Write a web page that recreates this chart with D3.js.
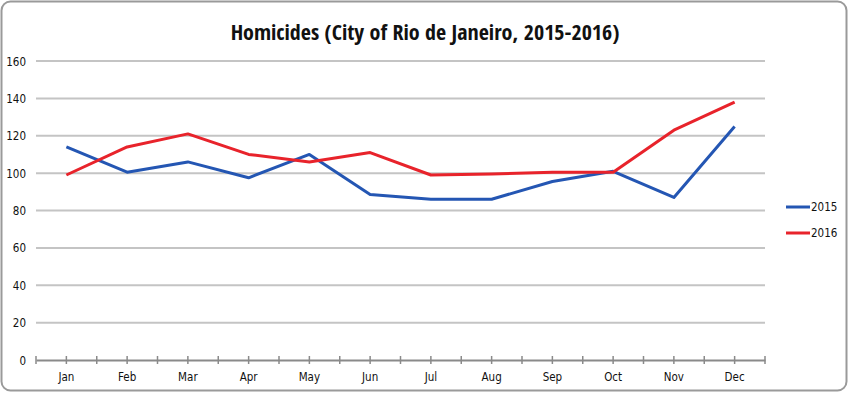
<!DOCTYPE html>
<html>
<head>
<meta charset="utf-8">
<title>Homicides</title>
<script src="https://cdnjs.cloudflare.com/ajax/libs/d3/7.8.5/d3.min.js"></script>
<style>
  body { margin: 0; background: #fff; }
  text { font-family: "DejaVu Sans Condensed", sans-serif; fill: #111; font-weight: normal; }
  .title { font-family: "Open Sans Condensed", "DejaVu Sans Condensed", sans-serif; font-weight: bold; }
  .grid line { stroke: #c4c4c4; stroke-width: 2px; }
  .line { fill: none; stroke-width: 3px; stroke-linejoin: round; }
</style>
</head>
<body>
<script>
// data
var months = ["Jan","Feb","Mar","Apr","May","Jun","Jul","Aug","Sep","Oct","Nov","Dec"];
var homicides2015 = [114, 100.5, 106, 97.5, 110, 88.5, 86, 86, 95.5, 101, 87, 125];
var homicides2016 = [99, 114, 121, 110, 106, 111, 99, 99.5, 100.5, 100.5, 123, 138];
var yTicks = [0, 20, 40, 60, 80, 100, 120, 140, 160];
var seriesNames = ["2015", "2016"];
var seriesColors = ["#2456b3", "#e8232b"];

var width = 850, height = 394;
var margin = {top: 61, right: 85, bottom: 34, left: 36};

var svg = d3.select("body").append("svg")
    .attr("width", width)
    .attr("height", height);

// frame
svg.append("rect")
    .attr("x", 1.5).attr("y", 1.5)
    .attr("width", width - 5).attr("height", height - 5)
    .attr("rx", 9)
    .attr("fill", "#fff")
    .attr("stroke", "#9a9a9a")
    .attr("stroke-width", 2);

svg.append("text")
    .attr("class", "title")
    .attr("x", 425).attr("y", 40)
    .attr("text-anchor", "middle")
    .style("font-size", "22px")
    .text("Homicides (City of Rio de Janeiro, 2015-2016)");

var x = d3.scaleBand().domain(months).range([margin.left, width - margin.right]);
var y = d3.scaleLinear().domain([0, 160]).range([height - margin.bottom, margin.top]);

var g = svg.append("g");

// horizontal gridlines
g.append("g").attr("class", "grid")
  .selectAll("line")
  .data(yTicks.filter(function(d) { return d > 0; }))
  .enter().append("line")
    .attr("x1", margin.left).attr("x2", width - margin.right)
    .attr("y1", function(d) { return y(d); })
    .attr("y2", function(d) { return y(d); });

// y labels
var yAxis = g.append("g")
    .attr("transform", "translate(" + (margin.left - 10) + ",0)")
    .call(d3.axisLeft(y).tickValues(yTicks).tickSize(0).tickPadding(0));
yAxis.select(".domain").remove();
yAxis.selectAll("text").style("font-size", "11.5px").attr("dy", "0.35em");

// x axis: ticks at band edges and centres
var xAxis = g.append("g")
    .attr("transform", "translate(0," + y(0) + ")")
    .call(d3.axisBottom(x).tickSize(0).tickPadding(13));
xAxis.select(".domain").attr("stroke", "#8a8a8a").attr("stroke-width", 2);
xAxis.selectAll("text").style("font-size", "11.5px");

var tickPos = [];
months.forEach(function(m) {
  tickPos.push(x(m));
  tickPos.push(x(m) + x.bandwidth() / 2);
});
tickPos.push(x.range()[1]);
xAxis.selectAll("line.tk")
  .data(tickPos)
  .enter().append("line")
    .attr("class", "tk")
    .attr("x1", function(d) { return d; }).attr("x2", function(d) { return d; })
    .attr("y1", -4).attr("y2", 4)
    .attr("stroke", "#8a8a8a").attr("stroke-width", 1.5);

// lines
var line = d3.line()
    .x(function(d, i) { return x(months[i]) + x.bandwidth() / 2; })
    .y(function(d) { return y(d); });

[homicides2015, homicides2016].forEach(function(vals, i) {
  g.append("path")
    .attr("class", "line")
    .attr("stroke", seriesColors[i])
    .attr("d", line(vals));
});

// legend
var legend = svg.append("g").attr("transform", "translate(786,207)");
seriesNames.forEach(function(name, i) {
  var row = legend.append("g").attr("transform", "translate(0," + (i * 26) + ")");
  row.append("line")
    .attr("x1", 0).attr("x2", 24)
    .attr("stroke", seriesColors[i]).attr("stroke-width", 3);
  row.append("text")
    .attr("x", 25).attr("dy", "0.35em")
    .style("font-size", "11.5px")
    .text(name);
});
</script>
</body>
</html>
